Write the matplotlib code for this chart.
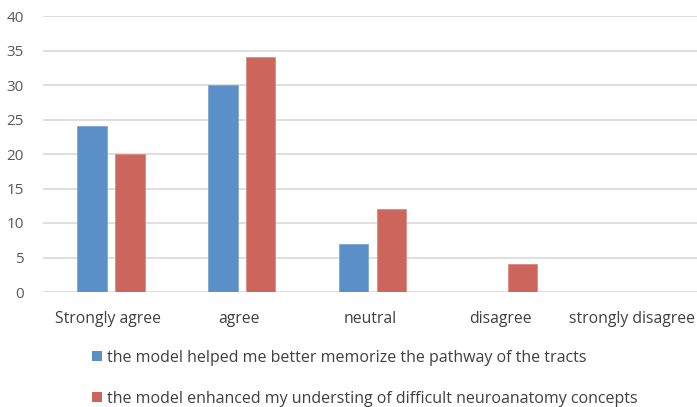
import matplotlib
matplotlib.use("Agg")
import matplotlib.pyplot as plt
import numpy as np
from matplotlib.patches import Patch

categories = ["Strongly agree", "agree", "neutral", "disagree", "strongly disagree"]
series1_name = "the model helped me better memorize the pathway of the tracts"
series2_name = "the model enhanced my understing of difficult neuroanatomy concepts"
series1 = [24, 30, 7, 0, 0]
series2 = [20, 34, 12, 4, 0]
yticks = [0, 5, 10, 15, 20, 25, 30, 35, 40]

plt.rcParams['font.family'] = ['Open Sans', 'DejaVu Sans']
blue = "#5B8FC7"
red = "#CC655B"
txt = "#404040"

fig = plt.figure(figsize=(6.97, 4.07), dpi=100)
ax = fig.add_axes([43/697, (407-292)/407, 1 - 43/697, (292-16)/407])

x = np.arange(len(categories))
w = 0.225
off = 0.145
ax.bar(x - off + 0.02, series1, w, color=blue, edgecolor="#7fa8d6", linewidth=0.6, zorder=3)
ax.bar(x + off + 0.02, series2, w, color=red, edgecolor="#dc8b83", linewidth=0.6, zorder=3)

ax.set_xlim(-0.5, len(categories) - 0.5)
ax.set_ylim(0, 40)
ax.set_yticks(yticks)
ax.set_yticklabels([str(v) for v in yticks], fontsize=11, color="#595959")
ax.set_xticks(x)
ax.set_xticklabels(categories, fontsize=11.3, color=txt)
ax.tick_params(length=0, pad=14)
ax.tick_params(axis='y', pad=14)
ax.grid(axis='y', color="#d9d9d9", linewidth=1.2, zorder=0)
for s in ax.spines.values():
    s.set_visible(False)

handles = [Patch(facecolor=blue, label=series1_name), Patch(facecolor=red, label=series2_name)]
fig.legend(handles=handles, loc="upper left", bbox_to_anchor=(92/697, 1 - 350/407),
           frameon=False, fontsize=11.5, handlelength=0.6, handleheight=0.6,
           handletextpad=0.35, labelspacing=1.55, labelcolor=txt, borderaxespad=0, borderpad=0)

fig.savefig("out.png", dpi=100, facecolor="white")
